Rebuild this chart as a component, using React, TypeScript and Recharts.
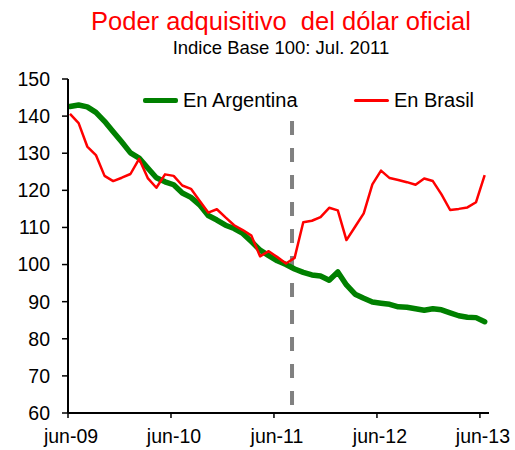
import { LineChart, Line, XAxis, YAxis, ReferenceLine, Legend } from 'recharts';

// monthly index, 0 = jun-09
const argentina = [
  142.6, 143.0, 142.5, 141.0, 138.6, 135.8, 133.0, 130.1, 128.7, 126.0,
  123.4, 122.3, 121.5, 119.3, 118.1, 116.1, 113.2, 112.0, 110.6, 109.7,
  108.4, 106.2, 103.9, 102.4, 101.0, 100.0, 98.8, 97.9, 97.2, 96.9,
  95.8, 98.0, 94.5, 92.0, 90.9, 89.9, 89.6, 89.3, 88.6, 88.5,
  88.1, 87.7, 88.1, 87.8, 87.0, 86.2, 85.8, 85.7, 84.6
];

const brasil = [
  140.6, 138.1, 131.8, 129.5, 123.9, 122.5, 123.4, 124.4, 128.5, 123.3,
  120.7, 124.3, 123.9, 121.3, 120.4, 117.2, 114.0, 114.9, 112.7, 110.6,
  109.3, 107.8, 102.2, 103.6, 102.0, 100.3, 101.8, 111.4, 111.8, 112.8,
  115.3, 114.6, 106.6, 110.2, 113.8, 121.6, 125.3, 123.3, 122.8, 122.2,
  121.5, 123.2, 122.5, 118.9, 114.7, 115.0, 115.4, 116.8, 124.1
];

const xTickLabels = ['jun-09', 'jun-10', 'jun-11', 'jun-12', 'jun-13'];
const xTickPos = [-0.23, 11.69, 23.61, 35.53, 47.45];
const yTicks = [60, 70, 80, 90, 100, 110, 120, 130, 140, 150];
const baseMonth = 25.7; // jul-11 marker

const data = argentina.map((v, k) => ({ k, argentina: v, brasil: brasil[k] }));

const FONT = '"Liberation Sans", Arial, sans-serif';

const legendLeft: Record<string, number> = { argentina: 143, brasil: 354 };

const renderLegend = ({ payload }: any) => (
  <div style={{ position: 'relative', width: 515, height: 20 }}>
    {(payload || []).map((entry: any) => (
      <div
        key={entry.dataKey}
        style={{
          position: 'absolute',
          left: legendLeft[entry.dataKey],
          top: 0,
          display: 'flex',
          alignItems: 'center',
          height: 20,
          lineHeight: '20px',
          fontSize: 20,
          color: '#000',
          whiteSpace: 'nowrap'
        }}
      >
        <span
          style={{
            display: 'inline-block',
            width: 35,
            height: entry.dataKey === 'argentina' ? 5 : 3,
            background: entry.color,
            borderRadius: 2
          }}
        />
        <span style={{ marginLeft: 5 }}>{entry.value}</span>
      </div>
    ))}
  </div>
);

export default function App() {
  return (
    <div style={{ position: 'absolute', left: 0, top: 0, width: 515, height: 450, fontFamily: FONT, background: '#fff' }}>
      <div style={{ position: 'absolute', left: 0, top: 9, width: 562, textAlign: 'center', fontSize: 25.5, lineHeight: '25px', color: '#ff0000' }}>
        Poder adquisitivo&nbsp; del dólar oficial
      </div>
      <div style={{ position: 'absolute', left: 0, top: 39, width: 562, textAlign: 'center', fontSize: 18.5, lineHeight: '18.5px', color: '#000' }}>
        Indice Base 100: Jul. 2011
      </div>
      <LineChart
        width={515}
        height={450}
        data={data}
        margin={{ top: 79, right: 26, left: 0, bottom: 0 }}
      >
        <XAxis
          dataKey="k"
          type="number"
          domain={[-0.23, 48.5]}
          ticks={xTickPos}
          tickFormatter={(v: number) => xTickLabels[xTickPos.indexOf(v)] ?? ''}
          height={37}
          axisLine={{ stroke: '#000', strokeWidth: 2 }}
          tickLine={{ stroke: '#000', strokeWidth: 1.5 }}
          tickSize={5}
          tickMargin={11}
          tick={{ fill: '#000', fontSize: 19.5, dx: 3 }}
          allowDataOverflow
        />
        <YAxis
          domain={[60, 150]}
          ticks={yTicks}
          width={68}
          axisLine={{ stroke: '#000', strokeWidth: 2 }}
          tickLine={{ stroke: '#000', strokeWidth: 1.5 }}
          tickSize={6}
          tickMargin={12}
          tick={{ fill: '#000', fontSize: 19.5 }}
          allowDataOverflow
        />
        <ReferenceLine
          segment={[{ x: baseMonth, y: 138.7 }, { x: baseMonth, y: 60 }]}
          stroke="#808080"
          strokeWidth={4}
          strokeDasharray="14 13"
        />
        <Legend
          layout="horizontal"
          verticalAlign="middle"
          align="center"
          wrapperStyle={{ top: 90, left: 0, width: 515, height: 20 }}
          content={renderLegend}
        />
        <Line
          type="linear"
          dataKey="argentina"
          name="En Argentina"
          stroke="#008000"
          strokeWidth={5.5}
          strokeLinejoin="round"
          strokeLinecap="round"
          dot={false}
          isAnimationActive={false}
        />
        <Line
          type="linear"
          dataKey="brasil"
          name="En Brasil"
          stroke="#ff0000"
          strokeWidth={2.5}
          strokeLinejoin="round"
          dot={false}
          isAnimationActive={false}
        />
      </LineChart>
    </div>
  );
}
